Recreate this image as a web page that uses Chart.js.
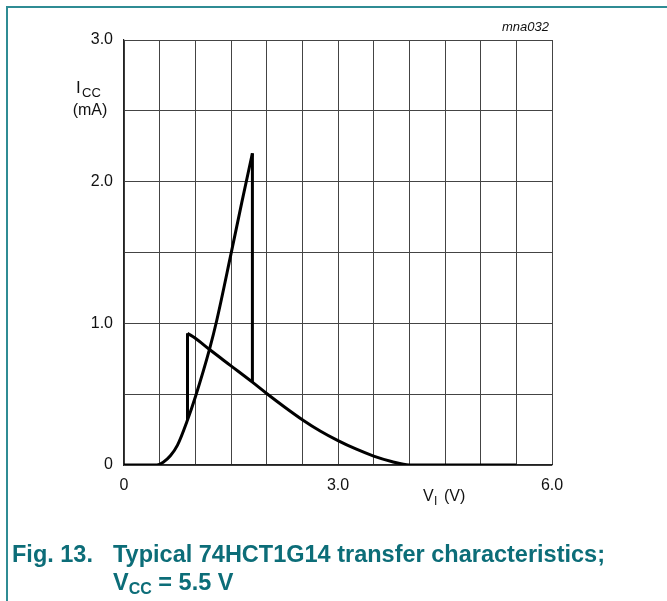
<!DOCTYPE html>
<html>
<head>
<meta charset="utf-8">
<script src="https://cdn.jsdelivr.net/npm/chart.js@4.4.1/dist/chart.umd.min.js"></script>
<style>
    body { margin: 0; background: #fff; }
    #wrap { position: relative; width: 667px; height: 601px; overflow: hidden; }
    #grafico { position: absolute; left: 0; top: 0; }
    .rule { position: absolute; background: #2f8c94; }
    .cap {
        position: absolute;
        font-family: "Liberation Sans", Arial, sans-serif;
        font-weight: bold;
        font-size: 23.5px;
        line-height: 1;
        color: #0c6d78;
        white-space: nowrap;
    }
    .cap sub { font-size: 16px; vertical-align: -4px; line-height: 0; }
</style>
</head>
<body>
<div id="wrap">
    <canvas id="grafico" width="667" height="601"></canvas>
    <div class="rule" style="left:6px; top:6px; width:661px; height:2px;"></div>
    <div class="rule" style="left:6px; top:6px; width:2px; height:595px;"></div>
    <div class="cap" style="left:12px; top:543px;">Fig. 13.</div>
    <div class="cap" style="left:113px; top:543px;">Typical 74HCT1G14 transfer characteristics;</div>
    <div class="cap" style="left:113px; top:571px;">V<sub>CC</sub> = 5.5 V</div>
</div>
<script>
// input rising: current in mA against input voltage
const risingV = [0, 0.3, 0.46, 0.55, 0.65, 0.75, 0.89, 1.0, 1.2, 1.3, 1.5, 1.65, 1.8];
const risingI = [0, 0, 0, 0.02, 0.065, 0.14, 0.317, 0.48, 0.82, 1.02, 1.49, 1.85, 2.2];

// input falling
const fallingV = [0.89, 1.0, 1.2, 1.5, 1.8, 2.0, 2.25, 2.5, 2.75, 3.0, 3.25, 3.5, 3.75, 4.0, 5.5];
const fallingI = [0.93, 0.895, 0.815, 0.70, 0.585, 0.505, 0.41, 0.32, 0.24, 0.172, 0.113, 0.063, 0.025, 0, 0];

// switching jumps
const jumpUpV = [0.89, 0.89];
const jumpUpI = [0.317, 0.93];
const jumpDownV = [1.8, 1.8];
const jumpDownI = [2.2, 0.585];

const xLabels = [0, 3, 6];
const yLabels = [0, 1, 2, 3];

const pts = (xs, ys) => xs.map((x, i) => ({ x: x, y: ys[i] }));

const serie = (xs, ys, curva) => ({
    data: pts(xs, ys),
    showLine: true,
    borderColor: '#000',
    borderWidth: 3,
    pointRadius: 0,
    cubicInterpolationMode: curva ? 'monotone' : 'default',
    tension: 0
});

const textos = {
    id: 'textos',
    afterDraw(chart) {
        const c = chart.ctx;
        c.save();
        c.fillStyle = '#111';
        c.textBaseline = 'alphabetic';
        // y title
        c.font = '17px "Liberation Sans", Arial, sans-serif';
        c.textAlign = 'left';
        c.fillText('I', 76, 93);
        c.font = '13px "Liberation Sans", Arial, sans-serif';
        c.fillText('CC', 82, 97);
        c.font = '16px "Liberation Sans", Arial, sans-serif';
        c.textAlign = 'center';
        c.fillText('(mA)', 90, 115);
        // x title
        c.textAlign = 'left';
        c.fillText('V', 423, 501);
        c.font = '12px "Liberation Sans", Arial, sans-serif';
        c.fillText('I', 434, 505);
        c.font = '16px "Liberation Sans", Arial, sans-serif';
        c.fillText('(V)', 444, 501);
        // code
        c.font = 'italic 13px "Liberation Sans", Arial, sans-serif';
        c.textAlign = 'right';
        c.fillText('mna032', 549, 31);
        c.restore();
    }
};

new Chart(document.getElementById('grafico'), {
    type: 'scatter',
    data: {
        datasets: [
            serie(risingV, risingI, true),
            serie(fallingV, fallingI, true),
            serie(jumpUpV, jumpUpI, false),
            serie(jumpDownV, jumpDownI, false)
        ]
    },
    options: {
        responsive: false,
        animation: false,
        layout: { padding: { top: 40, right: 115, bottom: 106, left: 0 } },
        plugins: { legend: { display: false }, tooltip: { enabled: false } },
        scales: {
            x: {
                type: 'linear',
                min: 0, max: 6,
                afterFit: s => { s.height = 30; },
                grid: { color: '#444', lineWidth: 1, drawTicks: false },
                border: { color: '#222', width: 1.2 },
                ticks: {
                    stepSize: 0.5, autoSkip: false, maxRotation: 0, padding: 11,
                    color: '#111',
                    font: { family: '"Liberation Sans", Arial, sans-serif', size: 16 },
                    callback: v => xLabels.includes(v) ? (v === 0 ? '0' : v.toFixed(1)) : ''
                }
            },
            y: {
                min: 0, max: 3,
                afterFit: s => { s.width = 124; },
                grid: { color: '#444', lineWidth: 1, drawTicks: false },
                border: { color: '#222', width: 1.2 },
                ticks: {
                    stepSize: 0.5, autoSkip: false, padding: 11,
                    color: '#111',
                    font: { family: '"Liberation Sans", Arial, sans-serif', size: 16 },
                    callback: v => yLabels.includes(v) ? (v === 0 ? '0' : v.toFixed(1)) : ''
                }
            }
        }
    },
    plugins: [textos]
});
</script>
</body>
</html>
